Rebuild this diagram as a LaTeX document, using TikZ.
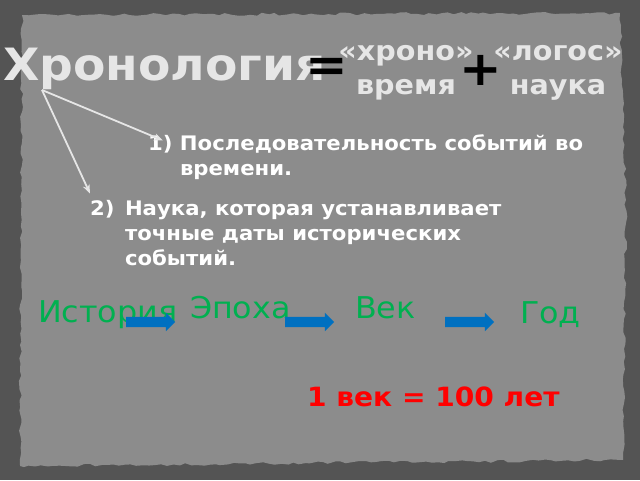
\documentclass[tikz,border=0pt]{standalone}
\usepackage{fontspec}
\setmainfont[FakeStretch=1.06]{DejaVu Sans}
\usetikzlibrary{shapes.arrows,arrows.meta,decorations.pathmorphing}

\definecolor{board}{HTML}{545454}
\definecolor{paper}{HTML}{8C8C8C}
\definecolor{chalk}{HTML}{E6E6E6}
\definecolor{eragreen}{HTML}{00B050}
\definecolor{flowblue}{HTML}{0070C0}

\begin{document}
\begin{tikzpicture}[x=1pt, y=-1pt,
    every node/.style = {inner sep=0pt, outer sep=0pt},
    heading/.style = {text=chalk, font=\bfseries\fontsize{44.5}{45}\selectfont},
    sign/.style = {text=black, font=\bfseries\fontsize{48}{48}\selectfont},
    root/.style = {text=chalk, align=center,
      font=\bfseries\fontsize{27}{34}\selectfont},
    point/.style = {text=white, anchor=base west,
      font=\bfseries\fontsize{20}{25}\selectfont},
    era/.style = {text=eragreen, anchor=base west,
      font=\fontsize{30}{30}\selectfont},
    flow/.style = {single arrow, fill=flowblue, draw=none,
      minimum height=49pt, minimum width=18pt, inner sep=5pt,
      single arrow head extend=4pt},
    pointer/.style = {draw=chalk, line width=1.8pt, -{Stealth[length=9pt,width=7pt]}}]

  % board and paper
  \fill[board] (0,0) rectangle (640,480);
  \fill[paper, decorate, decoration={random steps, segment length=6pt, amplitude=1.5pt}]
    (22,15) -- (620,13) -- (626,200) -- (623,460) -- (20,466) -- cycle;
  \useasboundingbox (0,0) rectangle (640,480);

  % title line
  \node[heading] (chron) at (3,80) [anchor=base west] {Хронология};
  \node[sign] (equal) at (327,70) {=};
  \node[root] (chrono) at (406,73) {«хроно»\\время};
  \node[sign] (plus) at (481,70) {+};
  \node[root] (logos) at (558,73) {«логос»\\наука};

  % meanings
  \node[point] (first) at (148,150) {\begin{tabular}[t]{@{}p{32pt}@{}l@{}}
      1) & Последовательность событий во\\ & времени.\end{tabular}};
  \node[point] (second) at (90,215) {\begin{tabular}[t]{@{}p{35pt}@{}l@{}}
      2) & Наука, которая устанавливает\\ & точные даты исторических\\
      & событий.\end{tabular}};

  \coordinate (fork) at (42,90);
  \draw[pointer] (fork) -- ([xshift=15pt,yshift=-8pt]first.north west);
  \draw[pointer] (fork) -- ([yshift=4pt]second.north west);

  % periods
  \node[era] (history) at (38,322) {История};
  \node[era] (epoch) at (190,318) {Эпоха};
  \node[era] (century) at (355,318) {Век};
  \node[era] (year) at (520,323) {Год};
  \node[flow] (toepoch) at (148,322) {};
  \node[flow] (tocentury) at (307,322) {};
  \node[flow] (toyear) at (467,322) {};

  \node[text=red, anchor=base west, font=\bfseries\fontsize{26.5}{26.5}\selectfont]
    (rule) at (307,406) {1 век = 100 лет};
\end{tikzpicture}
\end{document}
